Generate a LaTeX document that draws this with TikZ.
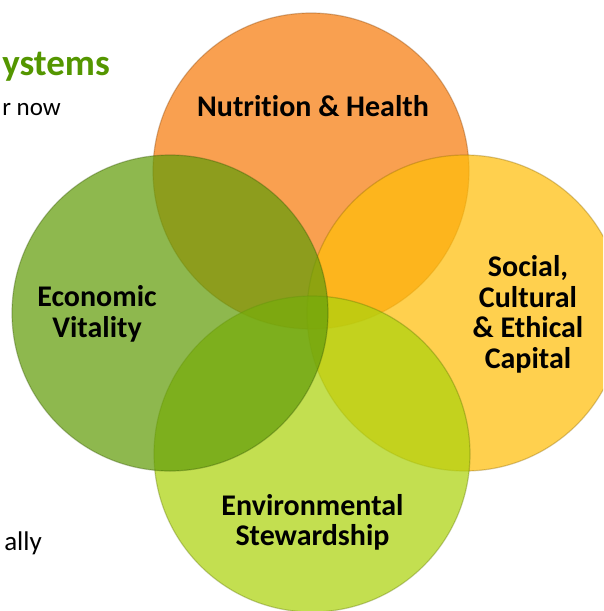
\documentclass[tikz,border=0pt]{standalone}
\usepackage{fontspec}
\setmainfont{Carlito}[Ligatures=CommonOff]
\usetikzlibrary{positioning}

\definecolor{nutritionC}{RGB}{247,124,12}
\definecolor{socialC}{RGB}{255,190,10}
\definecolor{economicC}{RGB}{99,157,10}
\definecolor{environmentC}{RGB}{172,211,12}
\definecolor{headgreen}{RGB}{84,150,0}

\begin{document}
\begin{tikzpicture}[x=1pt,y=-1pt]
	% styles for the circles and their captions
	\tikzset{
		ring/.style={
			circle, minimum size=316pt, inner sep=0pt,
			fill=#1, fill opacity=0.72,
			draw=#1!55!black, draw opacity=0.35, line width=1.2pt
		},
		pillar/.style={
			align=center, inner sep=0pt,
			font=\bfseries\fontsize{30}{30.5}\selectfont
		},
		sidetext/.style={
			anchor=base east, inner sep=0pt,
			font=\fontsize{27}{30}\selectfont
		}
	}
	
	\clip (0,0) rectangle (603,611);
	
	% the four overlapping circles (green one last, on top)
	\foreach \n/\x/\y in {nutrition/311/171, social/465/313, environment/312/454, economic/170/313} {
		\node[ring=\n C] (\n) at (\x,\y) {};
	}
	
	% captions
	\node[pillar] (nutritiontext) at (313,106) {Nutrition \& Health};
	\node[pillar] (economictext) at (97,314) {Economic\\Vitality};
	\node[pillar] (socialtext) at (528,314.5) {Social,\\Cultural\\\& Ethical\\Capital};
	\node[pillar] (environmenttext) at (312.5,522.5) {Environmental\\Stewardship};
	
	% text running in from the left edge
	\node[sidetext, text=headgreen, font=\bfseries\fontsize{37}{40}\selectfont] (heading) at (110,75) {ystems};
	\node[sidetext, font=\fontsize{25}{30}\selectfont] (line1) at (61,115) {r now};
	\node[sidetext] (line2) at (42,550) {ally};
\end{tikzpicture}
\end{document}
